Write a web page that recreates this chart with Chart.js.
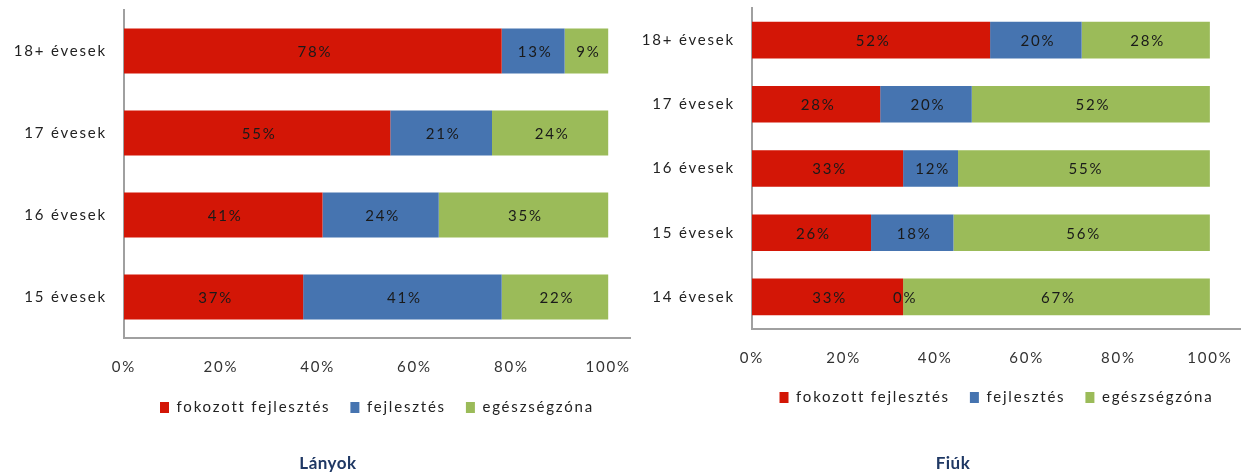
<!DOCTYPE html>
<html lang="hu">
<head>
<meta charset="utf-8">
<title>Lányok / Fiúk</title>
<script src="https://cdn.jsdelivr.net/npm/chart.js@4.4.1/dist/chart.umd.min.js"></script>
<style>
    html, body { margin: 0; padding: 0; background: #fff; }
    #wrap { position: relative; width: 1241px; height: 475px; overflow: hidden; }
    .box { position: absolute; top: 0; }
    .title {
        position: absolute; top: 452px; width: 200px; text-align: center;
        font: bold 17px Lato, "Open Sans", sans-serif; color: #1f3864; letter-spacing: 0.5px;
    }
</style>
</head>
<body>
<div id="wrap">
    <div class="box" style="left:0; width:640px; height:460px;"><canvas id="girls-chart"></canvas></div>
    <div class="box" style="left:630px; width:611px; height:450px;"><canvas id="boys-chart"></canvas></div>
    <div class="title" style="left:228px;">Lányok</div>
    <div class="title" style="left:853px;">Fiúk</div>
</div>
<script>
    "use strict";

    // Data
    const seriesNames = ['fokozott fejlesztés', 'fejlesztés', 'egészségzóna'];
    const seriesColors = ['#d31606', '#4674b0', '#9bbb59'];
    const xTicks = [0, 20, 40, 60, 80, 100];

    const girlsLabels = ['18+ évesek', '17 évesek', '16 évesek', '15 évesek'];
    const girlsFokozott = [78, 55, 41, 37];
    const girlsFejlesztes = [13, 21, 24, 41];
    const girlsEgeszseg = [9, 24, 35, 22];

    const boysLabels = ['18+ évesek', '17 évesek', '16 évesek', '15 évesek', '14 évesek'];
    const boysFokozott = [52, 28, 33, 26, 33];
    const boysFejlesztes = [20, 20, 12, 18, 0];
    const boysEgeszseg = [28, 52, 55, 56, 67];

    const FONT = 'Lato, "Open Sans", sans-serif';
    const SPACING = '1.8px';

    // letter spacing has to be re-applied, resizing the canvas resets the context
    const spacingPlugin = {
        id: 'spacing',
        beforeLayout(chart) { chart.ctx.letterSpacing = SPACING; },
        beforeDraw(chart) { chart.ctx.letterSpacing = SPACING; }
    };

    // Percent labels in the middle of each segment
    const valueLabels = {
        id: 'valueLabels',
        afterDatasetsDraw(chart) {
            const ctx = chart.ctx;
            ctx.save();
            ctx.letterSpacing = SPACING;
            ctx.font = '15px ' + FONT;
            ctx.fillStyle = '#1a1a1a';
            ctx.textAlign = 'center';
            ctx.textBaseline = 'middle';
            chart.data.datasets.forEach((ds, i) => {
                chart.getDatasetMeta(i).data.forEach((bar, j) => {
                    const x = (bar.x + bar.base) / 2;
                    ctx.fillText(ds.data[j] + '%', x + 2, bar.y + 1);
                });
            });
            ctx.restore();
        }
    };

    function makeChart(id, labels, values, opt) {
        const ctx = document.getElementById(id);
        return new Chart(ctx, {
            type: 'bar',
            data: {
                labels: labels,
                datasets: values.map((v, i) => ({
                    label: seriesNames[i],
                    data: v,
                    backgroundColor: seriesColors[i],
                    borderWidth: 0,
                    categoryPercentage: 1,
                    barPercentage: opt.barPct
                }))
            },
            options: {
                indexAxis: 'y',
                responsive: true,
                maintainAspectRatio: false,
                animation: false,
                layout: { padding: { top: opt.top, bottom: opt.bottom, left: 0, right: opt.right } },
                scales: {
                    x: {
                        stacked: true,
                        min: 0,
                        max: opt.xMax,
                        grid: { display: false, drawTicks: false },
                        border: { display: true, color: '#a0a0a0', width: 2 },
                        afterBuildTicks: (scale) => {
                            scale.ticks = xTicks.map(v => ({ value: v }));
                        },
                        afterFit: (scale) => {
                            scale.height = opt.xHeight;
                            scale.paddingLeft = 0;
                            scale.paddingRight = 0;
                        },
                        ticks: {
                            padding: opt.xPad,
                            color: '#333',
                            font: { size: 15, family: FONT },
                            maxRotation: 0,
                            callback: (v) => v + '%'
                        }
                    },
                    y: {
                        stacked: true,
                        grid: { display: false, drawTicks: false },
                        border: { display: true, color: '#a0a0a0', width: 2 },
                        afterFit: (scale) => {
                            scale.width = opt.yWidth;
                            scale.paddingTop = 0;
                            scale.paddingBottom = 0;
                        },
                        ticks: {
                            padding: 17,
                            color: '#222',
                            font: { size: 15, family: FONT }
                        }
                    }
                },
                plugins: {
                    legend: {
                        position: 'bottom',
                        fullSize: false,
                        labels: {
                            boxWidth: 9,
                            boxHeight: 11,
                            padding: 20,
                            color: '#222',
                            font: { size: 15, family: FONT }
                        }
                    },
                    tooltip: { enabled: false }
                }
            },
            plugins: [spacingPlugin, valueLabels]
        });
    }

    makeChart('girls-chart', girlsLabels, [girlsFokozott, girlsFejlesztes, girlsEgeszseg], {
        barPct: 0.55, top: 10, bottom: 35, right: 10, xMax: 104.5, xHeight: 42, xPad: 20, yWidth: 124
    });

    makeChart('boys-chart', boysLabels, [boysFokozott, boysFejlesztes, boysEgeszseg], {
        barPct: 0.57, top: 8, bottom: 35, right: 0, xMax: 106.8, xHeight: 41, xPad: 20, yWidth: 122
    });
</script>
</body>
</html>
